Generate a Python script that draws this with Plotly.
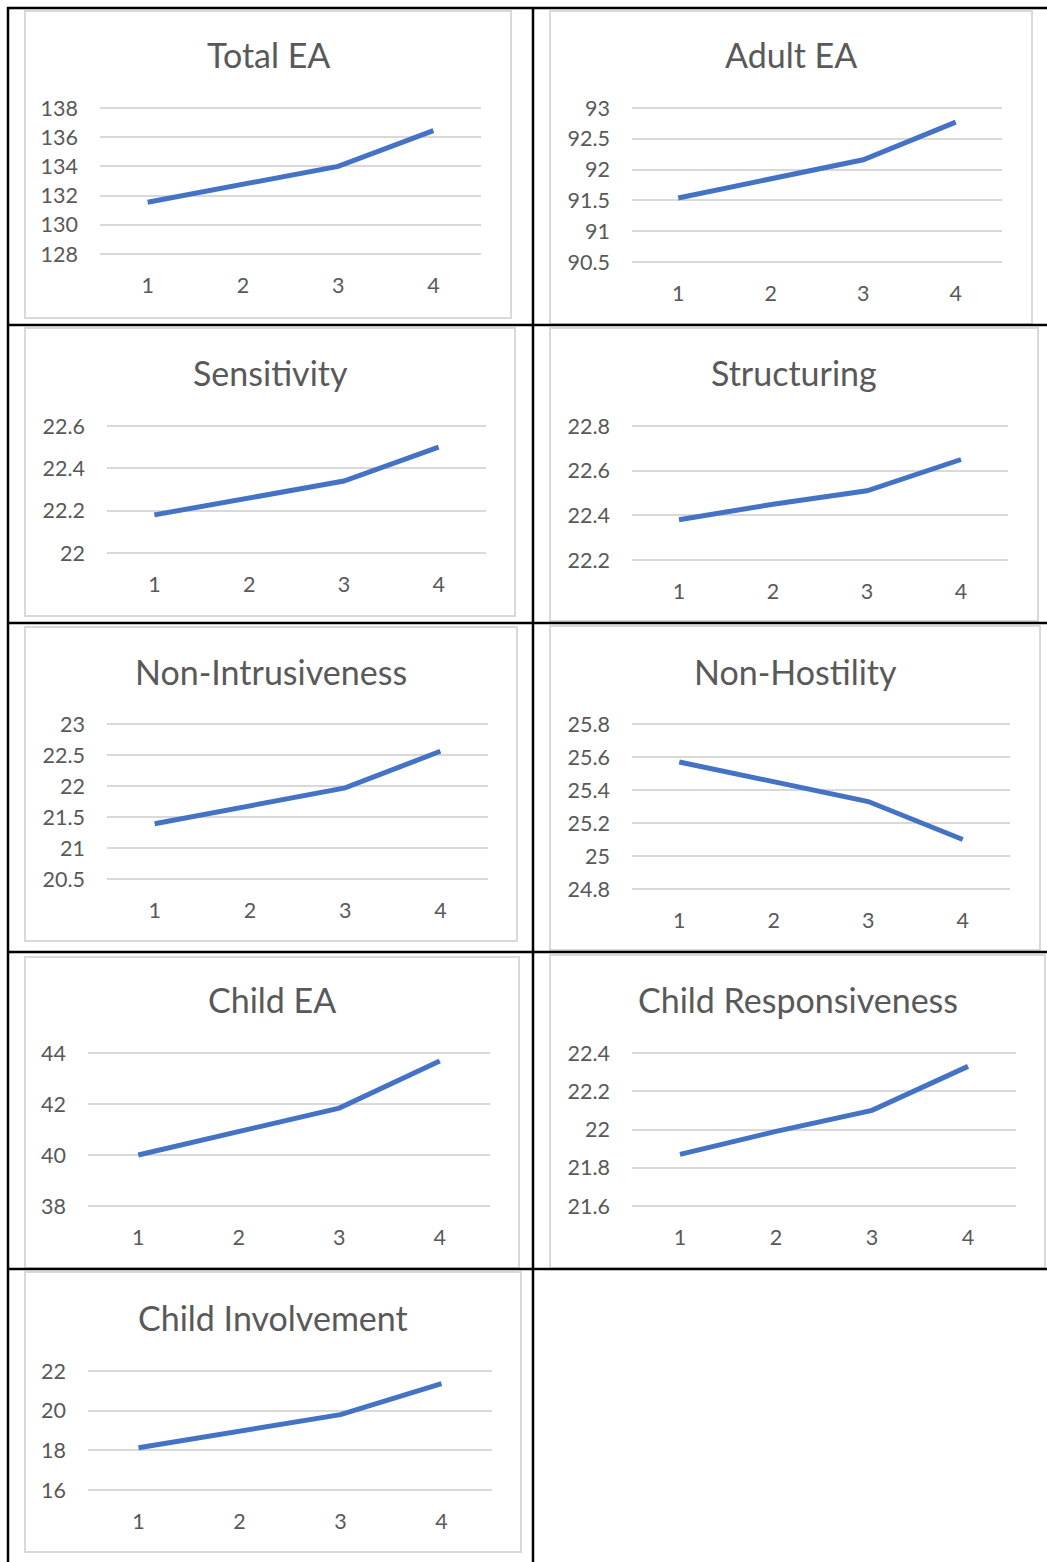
import plotly.graph_objects as go

# Canvas size in pixels
W, H = 1047, 1562

# Measurement occasions shared by every panel
occasions = [1, 2, 3, 4]
occasion_labels = ["1", "2", "3", "4"]

# Panel titles
titles = [
    "Total EA", "Adult EA", "Sensitivity", "Structuring",
    "Non-Intrusiveness", "Non-Hostility", "Child EA",
    "Child Responsiveness", "Child Involvement",
]

# Mean scores per occasion
total_ea = [131.55, 132.8, 134.0, 136.45]
adult_ea = [91.54, 91.86, 92.16, 92.77]
sensitivity = [22.18, 22.26, 22.34, 22.50]
structuring = [22.38, 22.45, 22.51, 22.65]
non_intrusiveness = [21.39, 21.68, 21.97, 22.56]
non_hostility = [25.57, 25.45, 25.33, 25.10]
child_ea = [40.0, 40.94, 41.84, 43.69]
child_responsiveness = [21.87, 21.99, 22.10, 22.33]
child_involvement = [18.13, 18.98, 19.80, 21.36]

series = [
    total_ea, adult_ea, sensitivity, structuring, non_intrusiveness,
    non_hostility, child_ea, child_responsiveness, child_involvement,
]

# Value-axis ticks per panel
ticks_total_ea = [128, 130, 132, 134, 136, 138]
ticks_adult_ea = [90.5, 91, 91.5, 92, 92.5, 93]
ticks_sensitivity = [22, 22.2, 22.4, 22.6]
ticks_structuring = [22.2, 22.4, 22.6, 22.8]
ticks_non_intrusiveness = [20.5, 21, 21.5, 22, 22.5, 23]
ticks_non_hostility = [24.8, 25, 25.2, 25.4, 25.6, 25.8]
ticks_child_ea = [38, 40, 42, 44]
ticks_child_responsiveness = [21.6, 21.8, 22, 22.2, 22.4]
ticks_child_involvement = [16, 18, 20, 22]

yticks = [
    ticks_total_ea, ticks_adult_ea, ticks_sensitivity, ticks_structuring,
    ticks_non_intrusiveness, ticks_non_hostility, ticks_child_ea,
    ticks_child_responsiveness, ticks_child_involvement,
]

# Layout geometry (pixels from top-left): chart frame and gridline extent
frames = [
    (25, 11, 511, 318), (550, 11, 1032, 324),
    (25, 328, 515, 616), (550, 328, 1038, 621),
    (25, 627, 517, 941), (550, 626, 1040, 950),
    (25, 957, 519, 1268), (550, 955, 1045, 1268),
    (25, 1272, 521, 1552),
]
plots = [
    (100, 108, 481, 254), (632, 108, 1002, 262),
    (107, 426, 486, 553), (632, 426, 1008, 560),
    (107, 724, 488, 879), (632, 724, 1010, 889),
    (88, 1053, 490, 1206), (632, 1053, 1016, 1206),
    (88, 1371, 492, 1490),
]
title_y = [55, 55, 373, 373, 671, 671, 999, 999, 1317]

# Extra pixels above/below the outer gridlines so they are not clipped
PAD = 4

FONT = "Lato"
GREY_TEXT = "#595959"
GRID = "#D9D9D9"
LINE = "#4472C4"


def fx(x):
    return x / W


def fy(y):
    return 1 - y / H


def fmt(v):
    return ("%g" % v)


fig = go.Figure()
shapes = []
annotations = []

for i in range(9):
    n = i + 1
    xa = "x" if n == 1 else f"x{n}"
    ya = "y" if n == 1 else f"y{n}"
    px0, py0, px1, py1 = plots[i]
    fig.add_trace(go.Scatter(
        x=occasions, y=series[i], mode="lines",
        line=dict(color=LINE, width=5),
        xaxis=xa, yaxis=ya, showlegend=False, hoverinfo="skip",
    ))
    tv = yticks[i]
    span = tv[-1] - tv[0]
    extra = span * PAD / (py1 - py0)
    fig.update_layout(**{
        f"xaxis{'' if n == 1 else n}": dict(
            domain=[fx(px0), fx(px1)], anchor=ya,
            range=[0.5, 4.5], tickvals=occasions, ticktext=occasion_labels,
            showgrid=False, zeroline=False, showline=False, ticks="",
            tickfont=dict(family=FONT, size=21.5, color=GREY_TEXT),
            ticklabelstandoff=16 - PAD, fixedrange=True, automargin=False,
        ),
        f"yaxis{'' if n == 1 else n}": dict(
            domain=[fy(py1 + PAD), fy(py0 - PAD)], anchor=xa,
            range=[tv[0] - extra, tv[-1] + extra],
            tickvals=tv, ticktext=[fmt(v) for v in tv],
            showgrid=True, gridcolor=GRID, gridwidth=1.5,
            zeroline=False, showline=False, ticks="",
            tickfont=dict(family=FONT, size=21.5, color=GREY_TEXT),
            ticklabelstandoff=21, fixedrange=True, automargin=False,
        ),
    })
    fx0, fy0, fx1, fy1 = frames[i]
    shapes.append(dict(
        type="rect", xref="paper", yref="paper", layer="below",
        x0=fx(fx0), x1=fx(fx1), y0=fy(fy1), y1=fy(fy0),
        line=dict(color=GRID, width=2), fillcolor="white",
    ))
    annotations.append(dict(
        text=titles[i], xref="paper", yref="paper",
        x=fx((fx0 + fx1) / 2), y=fy(title_y[i]),
        xanchor="center", yanchor="middle", showarrow=False,
        font=dict(family=FONT, size=34, color=GREY_TEXT),
    ))

# Table rules around the panels
table_lines = [
    (7, 8, W, 8), (8, 7, 8, H), (533, 7, 533, H),
    (8, 325, W, 325), (8, 623, W, 623), (8, 952, W, 952), (8, 1269, W, 1269),
]
for x0, y0, x1, y1 in table_lines:
    shapes.append(dict(
        type="line", xref="paper", yref="paper", layer="above",
        x0=fx(x0), x1=fx(x1), y0=fy(y0), y1=fy(y1),
        line=dict(color="black", width=2.5),
    ))

fig.update_layout(
    width=W, height=H,
    margin=dict(l=0, r=0, t=0, b=0, pad=0, autoexpand=False),
    paper_bgcolor="white", plot_bgcolor="rgba(0,0,0,0)",
    shapes=shapes, annotations=annotations, showlegend=False,
)

fig.write_html("out.html", config={"displayModeBar": False})
